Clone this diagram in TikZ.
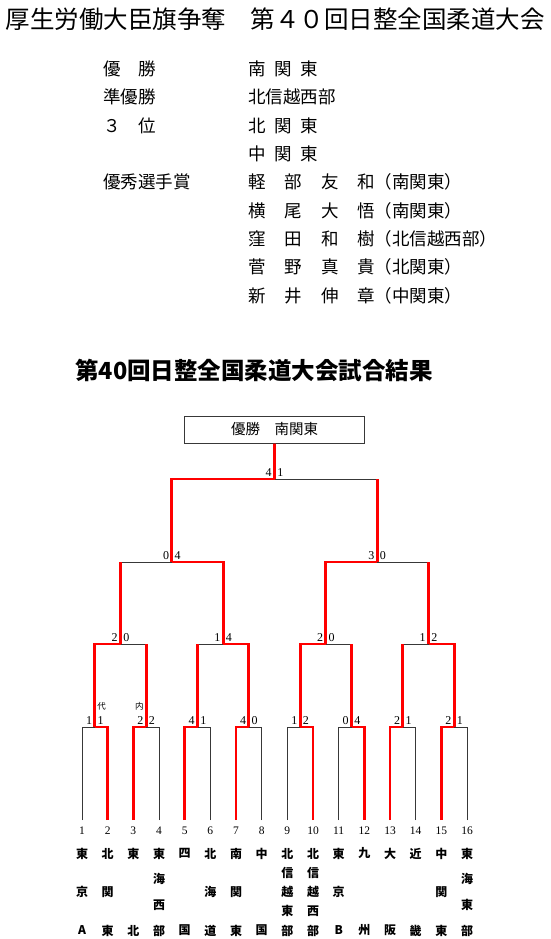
\documentclass[tikz,border=0pt]{standalone}
\usepackage{fontspec}
\setmainfont{Liberation Serif}
\newfontfamily\jp{Noto Sans CJK JP}
\begin{document}
\begin{tikzpicture}[x=1pt,y=-1pt]
\tikzset{
  win/.style={draw=red, line width=2.7pt},
  lose/.style={draw=black!78, line width=1pt},
  scl/.style={anchor=south east, inner sep=0pt, xshift=-2.6pt, yshift=2.2pt, font=\fontsize{12}{12}\selectfont},
  scr/.style={anchor=south west, inner sep=0pt, xshift=2.6pt, yshift=2.2pt, font=\fontsize{12}{12}\selectfont},
  numl/.style={inner sep=0pt, font=\fontsize{11.5}{11.5}\selectfont},
  namec/.style={inner sep=0pt, font=\jp\bfseries\fontsize{12}{12}\selectfont},
  decmark/.style={inner sep=0pt, font=\jp\fontsize{8.5}{8.5}\selectfont},
  infol/.style={anchor=west, inner sep=0pt, font=\jp\fontsize{17.5}{17.5}\selectfont},
  titletxt/.style={inner sep=0pt, font=\jp\fontsize{24.5}{24.5}\selectfont},
  subtxt/.style={inner sep=0pt, font=\jp\bfseries\fontsize{23.5}{23.5}\selectfont},
  boxtxt/.style={inner sep=0pt, font=\jp\fontsize{14.5}{14.5}\selectfont},
}
\useasboundingbox (0,0) rectangle (550,939);
\fill[white] (0,0) rectangle (550,939);

% ---------- headings ----------
\node[titletxt] (title) at (275,19) {厚生労働大臣旗争奪　第４０回日整全国柔道大会};

\node[infol] (r0a) at (103,69.0) {優　勝};
\node[infol] (r0b) at (248,69.0) {南\hspace{0.5em}関\hspace{0.5em}東};
\node[infol] (r1a) at (103,97.3) {準優勝};
\node[infol] (r1b) at (248,97.3) {北信越西部};
\node[infol] (r2a) at (103,125.6) {３　位};
\node[infol] (r2b) at (248,125.6) {北\hspace{0.5em}関\hspace{0.5em}東};
\node[infol] (r3b) at (248,153.9) {中\hspace{0.5em}関\hspace{0.5em}東};
\node[infol] (r4a) at (103,182.2) {優秀選手賞};
\node[infol] (r4b) at (248,182.2) {軽\hspace{1.08em}部\hspace{1.08em}友\hspace{1.08em}和（南関東）};
\node[infol] (r5b) at (248,210.5) {横\hspace{1.08em}尾\hspace{1.08em}大\hspace{1.08em}悟（南関東）};
\node[infol] (r6b) at (248,238.8) {窪\hspace{1.08em}田\hspace{1.08em}和\hspace{1.08em}樹（北信越西部）};
\node[infol] (r7b) at (248,267.1) {菅\hspace{1.08em}野\hspace{1.08em}真\hspace{1.08em}貴（北関東）};
\node[infol] (r8b) at (248,295.4) {新\hspace{1.08em}井\hspace{1.08em}伸\hspace{1.08em}章（中関東）};

\node[subtxt] (sub) at (254,370) {第40回日整全国柔道大会試合結果};

% ---------- winner box ----------
\node[draw=black!78, line width=1pt, minimum width=180pt, minimum height=27pt, inner sep=0pt] (box) at (274.5,429.5) {};
\node[boxtxt] (boxt) at (box.center) {優勝　南関東};

% ---------- bracket coordinates ----------
\foreach \i in {1,...,16} {
  \coordinate (b\i) at ({82+(\i-1)*25.667},820);
  \node[numl] (num\i) at ({82+(\i-1)*25.667},830.5) {\i};
}
\foreach \k in {1,...,8} \coordinate (m\k) at ({82+(2*\k-2)*25.667+12.833},727);
\foreach \k in {1,...,4} \coordinate (q\k) at ({82+(4*\k-4)*25.667+38.5},644);
\coordinate (s1) at ({82+3.5*25.667},562);
\coordinate (s2) at ({82+11.5*25.667},562);
\coordinate (f) at ({82+7.5*25.667},479);

% ---------- losers (black) ----------
\foreach \t/\m in {1/1,4/2,6/3,8/4,9/5,11/6,14/7,16/8} \draw[lose] (b\t) |- (m\m);
\draw[lose] (m2 |- q1) -- (q1);
\draw[lose] (m3 |- q2) -- (q2);
\draw[lose] (m6 |- q3) -- (q3);
\draw[lose] (m7 |- q4) -- (q4);
\draw[lose] (q1 |- s1) -- (s1);
\draw[lose] (q4 |- s2) -- (s2);
\draw[lose] (s2 |- f) -- (f);

% ---------- winners (red) ----------
\foreach \t/\m in {2/1,3/2,5/3,7/4,10/5,12/6,13/7,15/8} \draw[win] (b\t) |- (m\m);
\draw[win] (m2) -- (m2 |- q1);
\draw[win] (m3) -- (m3 |- q2);
\draw[win] (m6) -- (m6 |- q3);
\draw[win] (m7) -- (m7 |- q4);
\draw[win] (m1) |- (q1);
\draw[win] (m4) |- (q2);
\draw[win] (m5) |- (q3);
\draw[win] (m8) |- (q4);
\draw[win] (q1) -- (q1 |- s1);
\draw[win] (q4) -- (q4 |- s2);
\draw[win] (q2) |- (s1);
\draw[win] (q3) |- (s2);
\draw[win] (s2) -- (s2 |- f);
\draw[win] (s1) |- (f);
\draw[win] (f) -- (box.south);

% ---------- scores ----------
\foreach \c/\l/\r in {m1/1/1,m2/2/2,m3/4/1,m4/4/0,m5/1/2,m6/0/4,m7/2/1,m8/2/1,
                     q1/2/0,q2/1/4,q3/2/0,q4/1/2,s1/0/4,s2/3/0,f/4/1} {
  \node[scl] (\c L) at (\c) {\l};
  \node[scr] (\c R) at (\c) {\r};
}
\coordinate (daipos) at ([xshift=6.8pt]m1);
\coordinate (naipos) at ([xshift=-6.8pt]m2);
\node[decmark] (dai) at ([yshift=21pt]daipos) {代};
\node[decmark] (nai) at ([yshift=21pt]naipos) {内};

% ---------- team names ----------
\foreach \i/\lst/\n in {1/{東,京,A}/3, 2/{北,関,東}/3, 3/{東,北}/2, 4/{東,海,西,部}/4,
  5/{四,国}/2, 6/{北,海,道}/3, 7/{南,関,東}/3, 8/{中,国}/2,
  9/{北,信,越,東,部}/5, 10/{北,信,越,西,部}/5, 11/{東,京,B}/3, 12/{九,州}/2,
  13/{大,阪}/2, 14/{近,畿}/2, 15/{中,関,東}/3, 16/{東,海,東,部}/4} {
  \foreach \ch [count=\k from 0] in \lst {
    \node[namec] (nm\i-\k) at ({82+(\i-1)*25.667},{853.5+\k*77/(\n-1)}) {\ch};
  }
}
\end{tikzpicture}
\end{document}
